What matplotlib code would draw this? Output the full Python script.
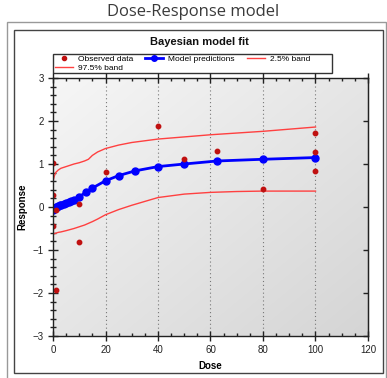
import numpy as np
import matplotlib
matplotlib.use("Agg")
import matplotlib.pyplot as plt
from matplotlib.patches import Rectangle
from matplotlib.lines import Line2D
from matplotlib.ticker import MultipleLocator

# Observed responses
obs_dose = [0, 0, 0, 1, 1, 10, 10, 20, 40, 50, 62.5, 80, 100, 100, 100]
obs_resp = [1.02, 0.28, -0.45, -0.08, -1.93, 0.08, -0.81, 0.82, 1.88, 1.12, 1.31, 0.42, 1.72, 1.28, 0.83]

# Posterior mean predictions
pred_dose = [0, 0.5, 1, 1.5, 2, 2.5, 3, 4, 5, 6, 7, 8, 10, 12.5, 15, 20, 25, 31.25, 40, 50, 62.5, 80, 100]
pred_resp = [-0.08, -0.04, -0.01, 0.01, 0.03, 0.04, 0.05, 0.07, 0.09, 0.12, 0.14, 0.17, 0.24, 0.34, 0.44,
             0.61, 0.73, 0.84, 0.94, 1.00, 1.07, 1.11, 1.15]

# Credible band limits
band_dose = [0, 0.5, 1, 2, 3, 5, 8, 10, 12, 13.5, 15, 17, 20, 25, 30, 40, 50, 60, 70, 80, 90, 100]
upper_band = [0.60, 0.72, 0.80, 0.86, 0.90, 0.94, 1.00, 1.03, 1.07, 1.11, 1.20, 1.28, 1.36, 1.44, 1.50,
              1.58, 1.63, 1.68, 1.72, 1.76, 1.81, 1.86]
lower_band = [-0.64, -0.62, -0.61, -0.59, -0.58, -0.55, -0.50, -0.46, -0.42, -0.38, -0.34, -0.28, -0.18,
              -0.06, 0.04, 0.22, 0.30, 0.34, 0.36, 0.37, 0.37, 0.37]

W, H = 387, 378
fig = plt.figure(figsize=(W / 100, H / 100), dpi=100)
fig.patch.set_facecolor("white")
plt.rcParams["font.family"] = ["Liberation Sans", "DejaVu Sans"]

def fx(px):
    return px / W

def fy(py):
    return 1 - py / H

# Outer and inner frames
fig.add_artist(Rectangle((fx(7), fy(380)), fx(386) - fx(7), fy(22) - fy(380),
                         transform=fig.transFigure, fill=False, edgecolor="#999999", lw=1.0))
fig.add_artist(Rectangle((fx(14), fy(373)), fx(383) - fx(14), fy(30) - fy(373),
                         transform=fig.transFigure, fill=False, edgecolor="#444444", lw=1.0))

fig.text(0.5, fy(12), "Dose-Response model", ha="center", va="center", fontsize=12,
         family=["Open Sans", "DejaVu Sans"], color="#3a3a3a")
fig.text(fx(199), fy(42), "Bayesian model fit", ha="center", va="center", fontsize=8,
         fontweight="bold", color="#111111")

ax = fig.add_axes([fx(53), fy(336), fx(368) - fx(53), fy(78) - fy(336)])
ax.set_xlim(0, 120)
ax.set_ylim(-3, 3)

# Shaded plot background, light at top-left, darker toward bottom-right
gx, gy = np.meshgrid(np.linspace(0, 1, 200), np.linspace(0, 1, 200))
shade = 0.965 - 0.13 * (gx + gy) / 2
ax.imshow(np.dstack([shade, shade, shade]), extent=[0, 120, -3, 3], aspect="auto",
          origin="upper", zorder=0, interpolation="bilinear")

for xv in [20, 40, 60, 80, 100]:
    ax.axvline(xv, color="#777777", lw=0.8, ls=(0, (1, 2.5)), zorder=1)

ax.plot(band_dose, upper_band, color="#ff4040", lw=1.0, zorder=3)
ax.plot(band_dose, lower_band, color="#ff4040", lw=1.0, zorder=3)
ax.plot(pred_dose, pred_resp, color="#0000ff", lw=2, marker="o", ms=5, zorder=4)
ax.plot(obs_dose, obs_resp, ls="none", marker="o", ms=3.2, color="#c01010", zorder=5)

for s in ax.spines.values():
    s.set_color("#222222")
    s.set_linewidth(1.0)
    s.set_zorder(6)

ax.xaxis.set_major_locator(MultipleLocator(20))
ax.xaxis.set_minor_locator(MultipleLocator(5))
ax.yaxis.set_major_locator(MultipleLocator(1))
ax.yaxis.set_minor_locator(MultipleLocator(0.2))
ax.tick_params(axis="both", which="major", direction="inout", length=7, width=1, color="#222222",
               labelsize=7, labelcolor="#222222", pad=3)
ax.tick_params(axis="both", which="minor", direction="inout", length=4, width=1, color="#222222")
ax.tick_params(axis="x", which="both", top=True)
ax.tick_params(axis="x", which="minor", top=True, direction="in", length=2.5)
ax.tick_params(axis="y", which="both", right=False)

# right side: short inward major ticks only
ax2 = ax.secondary_yaxis("right")
ax2.yaxis.set_major_locator(MultipleLocator(1))
ax2.tick_params(axis="y", which="major", direction="in", length=3.5, width=1, color="#222222",
                labelright=False)
ax2.spines["right"].set_color("#222222")

ax.set_xlabel("Dose", fontsize=7, fontweight="bold", labelpad=4)
ax.set_ylabel("Response", fontsize=7, fontweight="bold", labelpad=4)

handles = [
    Line2D([], [], ls="none", marker="o", ms=3, color="#c01010"),
    Line2D([], [], color="#ff4040", lw=1),
    Line2D([], [], color="#0000ff", lw=2, marker="o", ms=4),
    Line2D([], [], color="#ff4040", lw=1),
]
labels = ["Observed data", "97.5% band", "Model predictions", "2.5% band"]
leg = fig.legend(handles, labels, ncol=3, loc="upper left", bbox_to_anchor=(fx(54), fy(54.5)),
                 fontsize=6, frameon=False, borderpad=0.1, labelspacing=0.15,
                 handlelength=2.2, handletextpad=0.6, columnspacing=1.4, borderaxespad=0)
fig.add_artist(Rectangle((fx(53), fy(72.5)), fx(332) - fx(53), fy(54) - fy(72.5),
                         transform=fig.transFigure, facecolor="white", edgecolor="#333333",
                         lw=1.0, zorder=-1))

fig.savefig("out.png", dpi=100)
